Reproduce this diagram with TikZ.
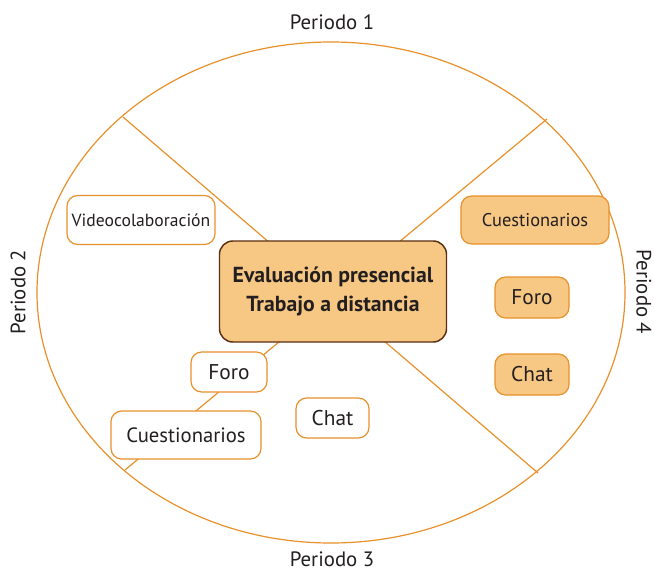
\documentclass[tikz,border=0pt]{standalone}
\usepackage{fontspec}
\setmainfont{PT Sans}
\usetikzlibrary{positioning,backgrounds,shapes.geometric}

\definecolor{lineorange}{HTML}{E8912A}
\definecolor{boxfill}{HTML}{F7C884}
\definecolor{darkbrown}{HTML}{5A2E10}
\definecolor{textgray}{HTML}{231F20}

\begin{document}
\begin{tikzpicture}[x=0.75pt,y=-0.75pt]
    \tikzset{wblock/.style={draw=lineorange, line width=0.9pt, rectangle, rounded corners=8pt, fill=white, align=center, text=textgray, font=\fontsize{16}{18}\selectfont, inner sep=0pt},
    oblock/.style={wblock, fill=boxfill},
    mainblock/.style={draw=darkbrown, line width=1.1pt, rectangle, rounded corners=10pt, fill=boxfill, align=center, text=textgray, font=\bfseries\fontsize{16.3}{22}\selectfont, minimum width=227*0.75pt, minimum height=101*0.75pt},
    period/.style={text=textgray, font=\fontsize{15.6}{17}\selectfont, inner sep=0.5pt},
    divider/.style={lineorange, line width=0.9pt},
    }
    \useasboundingbox (0,0) rectangle (654,571);
    \node [draw=lineorange, line width=0.9pt, ellipse, minimum width=588*0.75pt, minimum height=501*0.75pt, inner sep=0pt] (circ) at (331,292.5) {};
    \node [mainblock] (main) at (333,291.5) {Evaluación presencial\\Trabajo a distancia};
    %% left and bottom
    \node [wblock, font=\fontsize{13.2}{15}\selectfont, minimum width=148*0.75pt, minimum height=49*0.75pt] (video) at (141,220) {Videocolaboración};
    \node [wblock, minimum width=76*0.75pt, minimum height=40*0.75pt] (foroA) at (229,372) {Foro};
    \node [wblock, font=\fontsize{15.5}{17}\selectfont, minimum width=150*0.75pt, minimum height=48*0.75pt] (cuestA) at (186,435) {Cuestionarios};
    \node [wblock, minimum width=73*0.75pt, minimum height=40*0.75pt] (chatA) at (332.5,418) {Chat};
    %% right
    \node [oblock, font=\fontsize{13.8}{16}\selectfont, minimum width=148*0.75pt, minimum height=48*0.75pt] (cuestB) at (535,220) {Cuestionarios};
    \node [oblock, minimum width=74*0.75pt, minimum height=41*0.75pt] (foroB) at (532,297.5) {Foro};
    \node [oblock, minimum width=74*0.75pt, minimum height=41*0.75pt] (chatB) at (532,374.5) {Chat};
    %% period labels
    \node [period] (per1) at (332,22) {Periodo 1};
    \node [period, rotate=90] (per2) at (18,292) {Periodo 2};
    \node [period] (per3) at (332,559) {Periodo 3};
    \node [period, rotate=-90] (per4) at (644,292) {Periodo 4};
    %% ends of the dividing lines on the ellipse
    \coordinate (nw) at (123,117);
    \coordinate (ne) at (547,119);
    \coordinate (sw) at (125,470);
    \coordinate (se) at (538,473);

% paths
    \begin{scope}[on background layer]
    \draw [divider] (nw) -- (se);
    \draw [divider] (ne) -- (sw);
    \end{scope}
\end{tikzpicture}
\end{document}
